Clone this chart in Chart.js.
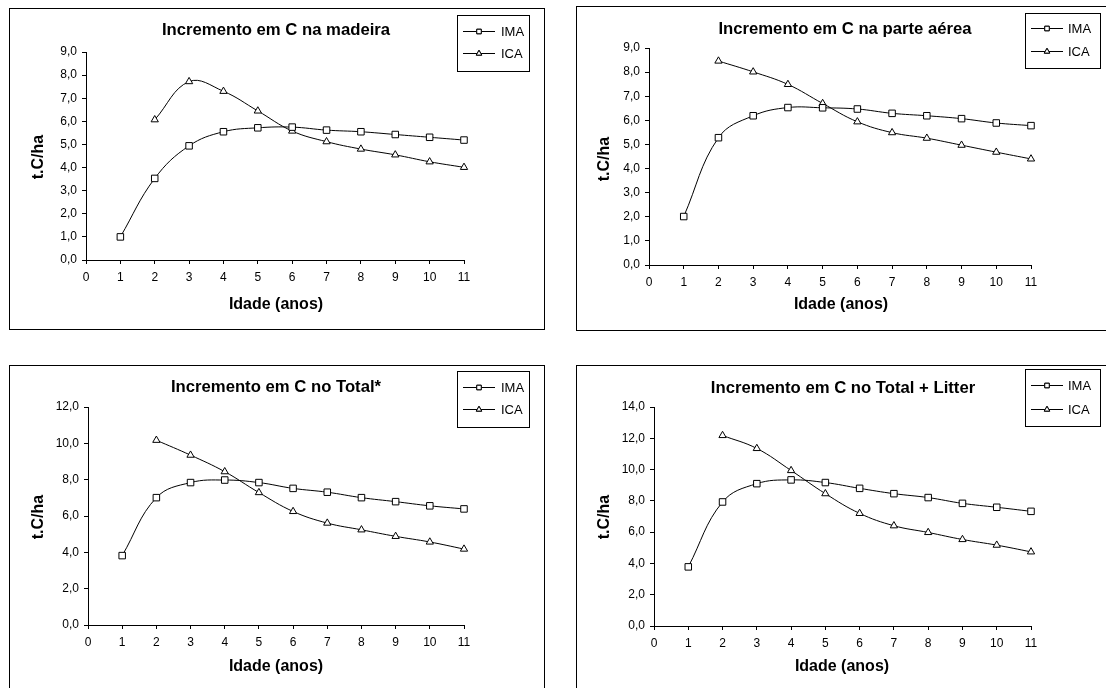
<!DOCTYPE html>
<html><head><meta charset="utf-8">
<script src="https://cdn.jsdelivr.net/npm/chart.js@4.4.0/dist/chart.umd.min.js"></script>
<style>
html,body{margin:0;padding:0;background:#fff;overflow:hidden;width:1106px;height:688px;position:relative;}
canvas{position:absolute;}
</style></head><body>
<canvas id="c1" width="536" height="322" style="left:9px;top:8px"></canvas>
<canvas id="c2" width="540" height="325" style="left:576px;top:6px"></canvas>
<canvas id="c3" width="536" height="330" style="left:9px;top:365px"></canvas>
<canvas id="c4" width="540" height="330" style="left:576px;top:365px"></canvas>
<script>
// ---- data ----
const ages = [1,2,3,4,5,6,7,8,9,10,11];
const seriesLabels = ['IMA','ICA'];
const panelTitles = ['Incremento em C na madeira','Incremento em C na parte aérea','Incremento em C no Total*','Incremento em C no Total + Litter'];
const xAxisTitle = 'Idade (anos)';
const yAxisTitle = 't.C/ha';
const madeiraIMA = [1.0,3.53,4.94,5.55,5.72,5.75,5.62,5.55,5.43,5.31,5.19];
const madeiraICA = [null,6.07,7.72,7.30,6.45,5.58,5.12,4.80,4.55,4.25,4.01];
const aereaIMA = [2.01,5.28,6.19,6.53,6.52,6.47,6.29,6.19,6.07,5.89,5.78];
const aereaICA = [null,8.46,8.01,7.49,6.70,5.94,5.49,5.26,4.97,4.68,4.40];
const totalIMA = [3.82,7.01,7.84,7.98,7.84,7.52,7.31,7.01,6.79,6.56,6.39];
const totalICA = [null,10.17,9.35,8.44,7.29,6.25,5.61,5.24,4.88,4.57,4.18];
const litterIMA = [3.78,7.93,9.10,9.34,9.17,8.80,8.46,8.21,7.84,7.59,7.33];
const litterICA = [null,12.18,11.35,9.94,8.46,7.20,6.41,5.98,5.53,5.17,4.74];
const yMax = [9,9,12,14];
const yStep = [1,1,2,2];
const xMin = 0, xMax = 11;

const FONT = "'Liberation Sans', Arial, Helvetica, sans-serif";
const Y_BOX = 50, X_BOX = 30;

const decor = {
  id: 'decor',
  afterDraw(chart, args, o) {
    const ctx = chart.ctx;
    const ox = o.off[0], oy = o.off[1];
    ctx.save();
    ctx.strokeStyle = '#000';
    ctx.lineWidth = 1;
    ctx.strokeRect(0.5, 0.5, chart.width - 1, chart.height - 1);
    ctx.fillStyle = '#000';
    ctx.textAlign = 'center';
    ctx.textBaseline = 'middle';
    ctx.font = 'bold 16.7px ' + FONT;
    ctx.fillText(o.title, o.titlePos[0] - ox, o.titlePos[1] - oy);
    ctx.font = 'bold 16px ' + FONT;
    ctx.fillText(o.xTitle, o.xTitlePos[0] - ox, o.xTitlePos[1] - oy);
    ctx.save();
    ctx.translate(o.yTitlePos[0] - ox, o.yTitlePos[1] - oy);
    ctx.rotate(-Math.PI / 2);
    ctx.fillText(o.yTitle, 0, 0);
    ctx.restore();
    const L = o.legend;
    ctx.fillStyle = '#fff';
    ctx.fillRect(L.x - ox, L.y - oy, L.w, L.h);
    ctx.strokeStyle = '#000';
    ctx.strokeRect(L.x - ox + 0.5, L.y - oy + 0.5, L.w, L.h);
    ctx.font = '13px ' + FONT;
    ctx.textAlign = 'left';
    chart.data.datasets.forEach((ds, i) => {
      const y = L.rows[i] - oy;
      ctx.strokeStyle = '#000';
      ctx.lineWidth = 1;
      ctx.beginPath();
      ctx.moveTo(L.line[0] - ox, Math.round(y) + 0.5);
      ctx.lineTo(L.line[1] - ox, Math.round(y) + 0.5);
      ctx.stroke();
      ctx.fillStyle = '#fff';
      Chart.helpers.drawPoint(ctx, {pointStyle: ds.pointStyle, radius: 3.2, borderWidth: 1, rotation: 0},
        (L.line[0] + L.line[1]) / 2 - ox, Math.round(y) + 0.5);
      ctx.fill(); ctx.stroke();
      ctx.fillStyle = '#000';
      ctx.fillText(ds.label, L.textX - ox, y + 1);
    });
    ctx.restore();
  }
};

function pts(arr) {
  return ages.map((a, i) => ({x: a, y: arr[i]})).filter(p => p.y !== null);
}

function makeChart(id, imaArr, icaArr, idx, lay) {
  const fmtY = v => v.toFixed(1).replace('.', ',');
  const common = {
    borderColor: '#000', borderWidth: 1, backgroundColor: '#fff',
    pointBackgroundColor: '#fff', pointBorderColor: '#000', pointBorderWidth: 1,
    tension: 0.4, clip: false, fill: false
  };
  const pad = {left: lay.pad.left - Y_BOX, top: lay.pad.top, right: lay.pad.right, bottom: lay.pad.bottom - X_BOX};
  new Chart(document.getElementById(id), {
    type: 'line',
    data: {
      datasets: [
        Object.assign({label: seriesLabels[0], data: pts(imaArr), pointStyle: 'rect', pointRadius: 4.6}, common),
        Object.assign({label: seriesLabels[1], data: pts(icaArr), pointStyle: 'triangle', pointRadius: 4.2}, common)
      ]
    },
    options: {
      responsive: false, animation: false, devicePixelRatio: 1,
      layout: {padding: pad},
      plugins: {
        legend: {display: false}, title: {display: false}, tooltip: {enabled: false},
        decor: {
          off: lay.off,
          title: panelTitles[idx], titlePos: lay.titlePos,
          xTitle: xAxisTitle, xTitlePos: lay.xTitlePos,
          yTitle: yAxisTitle, yTitlePos: lay.yTitlePos,
          legend: lay.legend
        }
      },
      scales: {
        x: {
          type: 'linear', min: xMin, max: xMax,
          afterFit: s => { s.height = X_BOX; },
          ticks: {stepSize: 1, color: '#000', padding: 6, font: {family: FONT, size: 12}, callback: v => String(v), autoSkip: false, maxRotation: 0},
          grid: {drawOnChartArea: false, drawTicks: true, tickLength: 4, color: '#000'},
          border: {display: true, color: '#000', width: 1}
        },
        y: {
          type: 'linear', min: 0, max: yMax[idx],
          afterFit: s => { s.width = Y_BOX; },
          ticks: {stepSize: yStep[idx], color: '#000', padding: 5, font: {family: FONT, size: 12}, callback: fmtY},
          grid: {drawOnChartArea: false, drawTicks: true, tickLength: 4, color: '#000'},
          border: {display: true, color: '#000', width: 1}
        }
      }
    },
    plugins: [decor]
  });
}

makeChart('c1', madeiraIMA, madeiraICA, 0, {
  off: [9, 8], pad: {left: 77, top: 44, right: 81, bottom: 70},
  titlePos: [276, 30], xTitlePos: [276, 305], yTitlePos: [39, 157],
  legend: {x: 457, y: 15, w: 72, h: 56, rows: [31, 53], line: [463, 495], textX: 501}
});
makeChart('c2', aereaIMA, aereaICA, 1, {
  off: [576, 6], pad: {left: 73, top: 42, right: 85, bottom: 66},
  titlePos: [845, 29], xTitlePos: [841, 305], yTitlePos: [605, 159],
  legend: {x: 1025, y: 13, w: 75, h: 55, rows: [28, 51], line: [1031, 1063], textX: 1068}
});
makeChart('c3', totalIMA, totalICA, 2, {
  off: [9, 365], pad: {left: 79, top: 42, right: 81, bottom: 70},
  titlePos: [276, 387], xTitlePos: [276, 667], yTitlePos: [39, 517],
  legend: {x: 457, y: 371, w: 72, h: 56, rows: [387, 409], line: [463, 495], textX: 501}
});
makeChart('c4', litterIMA, litterICA, 3, {
  off: [576, 365], pad: {left: 78, top: 42, right: 85, bottom: 69},
  titlePos: [843, 388], xTitlePos: [842, 667], yTitlePos: [605, 517],
  legend: {x: 1025, y: 369, w: 75, h: 57, rows: [385, 409], line: [1031, 1063], textX: 1068}
});
</script>
</body></html>
